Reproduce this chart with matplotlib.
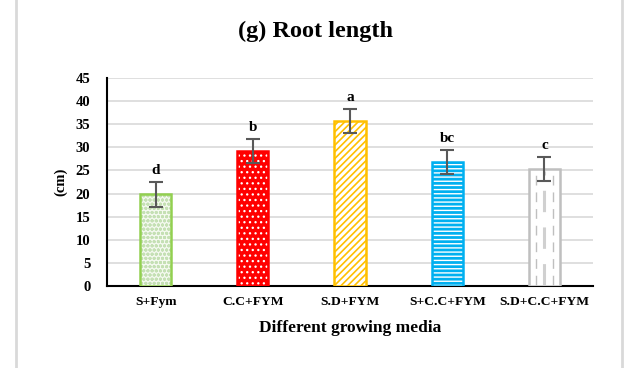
import matplotlib.pyplot as plt
from matplotlib.lines import Line2D

plt.rcParams['font.family'] = ['Liberation Serif', 'DejaVu Serif']
plt.rcParams['font.weight'] = 'bold'

media = ['S+Fym', 'C.C+FYM', 'S.D+FYM', 'S+C.C+FYM', 'S.D+C.C+FYM']
root_len = [19.8, 29.3, 35.7, 26.9, 25.4]
err = [2.7, 2.6, 2.6, 2.6, 2.6]
letters = ['d', 'b', 'a', 'bc', 'c']

edge_cols = ['#92d050', '#ff0000', '#ffc000', '#00b0f0', '#bfbfbf']
face_cols = ['#f4f9ef', '#ff0000', 'white', '#00b0f0', 'white']
hatch_cols = ['#c5e0b4', 'white', '#ffc000', 'white', 'white']
hatches = ['oooo', '...', '/////', '----', None]
hatch_lw = [1.0, 0.9, 1.2, 1.0, 1.0]

fig = plt.figure(figsize=(6.3, 3.68), dpi=100)
ax = fig.add_axes([107 / 630, 1 - 286 / 368, 486 / 630, 208 / 368])

x = list(range(len(media)))
w = 0.32
for i in x:
    # fill + pattern first, then a clean outline on top
    with plt.rc_context({'hatch.linewidth': hatch_lw[i]}):
        ax.bar(i, root_len[i], w, color=face_cols[i], edgecolor=hatch_cols[i],
               hatch=hatches[i], linewidth=0, zorder=3)
    ax.bar(i, root_len[i], w, fill=False, edgecolor=edge_cols[i],
           linewidth=1.8, zorder=4)

# dashed vertical strokes inside the last bar
for dx, lw, col in ((-0.085, 1.0, '#bfbfbf'), (0.0, 2.2, '#d0d0d0'),
                    (0.085, 1.0, '#bfbfbf')):
    ax.add_line(Line2D([x[4] + dx, x[4] + dx], [0.3, root_len[4] - 0.6],
                       color=col, linewidth=lw, linestyle=(0, (7, 5)),
                       zorder=4))

ax.errorbar(x, root_len, yerr=err, fmt='none', ecolor='#595959',
            elinewidth=1.5, capsize=5, capthick=1.5, zorder=5)

for i in x:
    ax.text(i, root_len[i] + err[i] + 1.0, letters[i], ha='center',
            va='bottom', fontsize=11, fontweight='bold')

ax.set_xlim(-0.5, 4.5)
ax.set_ylim(0, 45)
ax.set_yticks(range(0, 46, 5))
ax.set_xticks(x)
ax.set_xticklabels(media, fontsize=9.7, fontweight='bold')
ax.tick_params(axis='y', labelsize=10.5, length=0, pad=12)
ax.tick_params(axis='x', length=0, pad=7)
ax.grid(axis='y', color='#d9d9d9', linewidth=1.2, zorder=0)
ax.set_axisbelow(True)
for s in ('top', 'right'):
    ax.spines[s].set_visible(False)
ax.spines['left'].set_linewidth(1.5)
ax.spines['bottom'].set_linewidth(1.5)

ax.set_ylabel('(cm)', fontsize=10.5, fontweight='bold', labelpad=6)
ax.set_xlabel('Different growing media', fontsize=12.5, fontweight='bold',
              labelpad=9)
fig.text(0.5, 1 - 31 / 368, '(g) Root length', ha='center', va='center',
         fontsize=17.5, fontweight='bold')

# light frame lines at both sides
for xf in (16 / 630, 622 / 630):
    fig.add_artist(Line2D([xf, xf], [0, 1], color='#d9d9d9', linewidth=2,
                          transform=fig.transFigure))

fig.savefig('out.png', dpi=100)
